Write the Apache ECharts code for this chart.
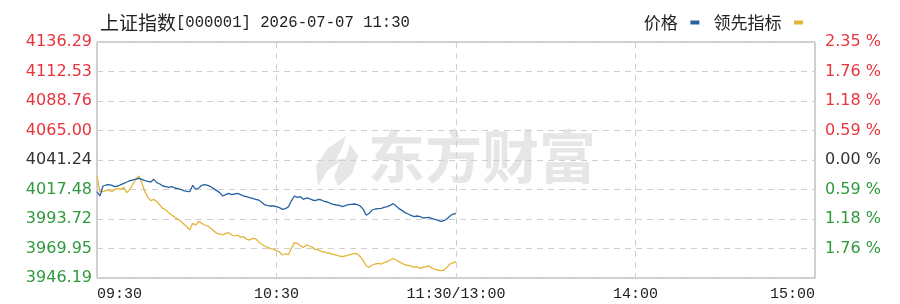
<!DOCTYPE html>
<html><head><meta charset="utf-8">
<script src="https://cdn.jsdelivr.net/npm/echarts@6/dist/echarts.min.js"></script>
<style>html,body{margin:0;padding:0;background:#fff}#c{width:900px;height:304px}</style>
</head><body><div id="c"></div>
<script>
const titleName = '上证指数';
const titleInfo = '[000001] 2026-07-07 11:30';
const seriesNames = ['价格', '领先指标'];
const watermarkText = '东方财富';

const priceValues = [
4015.73,4012.24,4020.30,4021.10,4021.37,4020.83,4019.76,4020.30,4021.37,4022.44,
4023.52,4024.59,4025.13,4025.94,4026.47,4025.67,4024.59,4024.06,4023.52,4025.67,
4022.98,4021.91,4020.30,4019.76,4019.22,4019.76,4018.69,4018.15,4017.61,4016.54,
4016.00,4015.73,4020.83,4017.61,4018.69,4020.83,4021.37,4020.83,4019.76,4018.15,
4016.54,4014.93,4012.24,4013.32,4014.39,4013.32,4013.85,4014.39,4013.32,4012.24,
4011.70,4010.90,4010.36,4009.56,4009.02,4007.41,4005.26,4004.46,4004.19,4004.19,
4003.65,4002.84,4001.50,4002.04,4003.65,4008.48,4012.24,4011.17,4011.70,4009.56,
4010.63,4010.09,4009.02,4008.48,4009.56,4009.02,4007.95,4007.41,4006.33,4005.53,
4004.99,4004.72,4003.65,4004.46,4005.26,4005.53,4005.80,4005.26,4004.19,4001.50,
3996.67,3998.28,4000.96,4001.77,4002.04,4002.31,4003.11,4003.65,4004.72,4006.07,
4004.19,4002.04,4000.43,3998.82,3997.74,3996.67,3995.59,3996.13,3995.59,3994.52,
3994.79,3995.06,3993.98,3993.45,3992.64,3991.84,3992.37,3993.98,3996.13,3997.74,
3998.01];

const leadValues = [
4027.81,4015.73,4015.73,4016.54,4017.07,4015.73,4017.61,4018.42,4017.61,4019.22,
4014.93,4017.61,4021.91,4025.67,4028.35,4022.44,4015.73,4011.17,4008.48,4009.56,
4007.68,4004.99,4002.31,4000.96,3998.82,3996.94,3995.06,3993.45,3991.84,3989.69,
3987.54,3984.85,3990.22,3988.88,3991.84,3990.22,3988.88,3988.08,3986.20,3984.32,
3982.17,3981.63,3980.83,3982.17,3982.71,3980.83,3980.02,3980.83,3978.95,3979.48,
3977.34,3976.80,3978.14,3977.87,3975.46,3973.58,3971.97,3970.89,3969.82,3969.28,
3968.21,3967.13,3964.72,3965.52,3964.99,3970.09,3974.65,3974.11,3971.97,3970.89,
3972.77,3971.97,3970.89,3969.28,3968.74,3967.67,3967.13,3966.33,3966.06,3965.25,
3964.72,3963.91,3963.37,3963.91,3964.72,3965.25,3966.06,3965.52,3963.37,3960.15,
3955.86,3954.78,3956.66,3957.47,3958.00,3957.47,3958.54,3959.35,3960.69,3961.76,
3960.69,3959.35,3958.00,3956.66,3956.39,3955.86,3954.78,3955.32,3953.98,3954.78,
3955.32,3955.86,3953.98,3953.17,3952.63,3952.10,3952.63,3954.78,3957.47,3958.54,
3959.08];

const prevClose = 4041.24;
const priceTicks = [3946.19, 3969.95, 3993.72, 4017.48, 4041.24, 4065.00, 4088.76, 4112.53, 4136.29];
const priceTickLabels = ['3946.19','3969.95','3993.72','4017.48','4041.24','4065.00','4088.76','4112.53','4136.29'];
const pctTicks = [-2.35, -1.76, -1.18, -0.59, 0, 0.59, 1.18, 1.76, 2.35];
const pctTickLabels = ['', '1.76 %', '1.18 %', '0.59 %', '0.00 %', '0.59 %', '1.18 %', '1.76 %', '2.35 %'];
const timeTickLabels = ['09:30', '10:30', '11:30/13:00', '14:00', '15:00'];

// minute slots of a trading day (241 slots)
const categories = [];
for (let i = 0; i <= 240; i++) categories.push(String(i));

const RED = '#e8343c', GREEN = '#2f9a3c', DARK = '#333333';
const BLUE = '#2563a3', GOLD = '#e5b53a';
const WM = '#e6e6e6';

function idxOf(arr, v) { return arr.findIndex(a => Math.abs(a - v) < 1e-6); }

const chart = echarts.init(document.getElementById('c'), null, { renderer: 'canvas' });
chart.setOption({
  animation: false,
  backgroundColor: '#ffffff',
  title: {
    text: '{a|' + titleName + '}{b|' + titleInfo + '}',
    left: 95, top: 8,
    textStyle: {
      fontWeight: 'normal',
      rich: {
        a: { fontFamily: 'Noto Sans CJK SC', fontSize: 19, color: '#222', fontWeight: 'normal' },
        b: { fontFamily: 'Liberation Mono', fontSize: 15.6, color: '#222', fontWeight: 'normal' }
      }
    }
  },
  legend: {
    data: seriesNames,
    right: 92, top: 9,
    align: 'right',
    icon: 'rect', itemWidth: 9, itemHeight: 4, itemGap: 14,
    formatter: n => n + '  ',
    textStyle: { fontFamily: 'Noto Sans CJK SC', fontSize: 17, color: '#222' }
  },
  graphic: [
    { type: 'text', left: 368, top: 128, z: 0, silent: true,
      style: { text: watermarkText, fontFamily: 'Noto Sans CJK SC', fontWeight: 'bold', fontSize: 57, fill: WM } },
    { type: 'polygon', z: 0, silent: true,
      shape: { points: [[346,136],[328,148],[316,166],[318,186],[328,170],[340,162],[334,176],[338,186],[352,174],[358,156],[350,144],[346,158],[336,160],[342,148]] },
      style: { fill: WM } }
  ],
  grid: { left: 97, right: 85, top: 42, bottom: 26, show: true, borderColor: '#a3a3a3', borderWidth: 1 },
  xAxis: {
    type: 'category', data: categories, boundaryGap: false,
    axisLine: { show: false }, axisTick: { show: false },
    axisLabel: {
      interval: (i) => i % 60 === 0,
      formatter: (v, i) => timeTickLabels[Math.round(i / 60)],
      fontFamily: 'Liberation Mono', fontSize: 15, color: '#222', margin: 9,
      alignMinLabel: 'left', alignMaxLabel: 'right', showMinLabel: true, showMaxLabel: true
    },
    splitLine: { show: true, interval: (i) => i % 60 === 0, lineStyle: { type: [6, 5], color: '#cfcfcf', width: 1 } }
  },
  yAxis: [
    {
      type: 'value', min: priceTicks[0], max: priceTicks[priceTicks.length - 1], position: 'left',
      axisLine: { show: false },
      axisTick: { show: false, customValues: priceTicks },
      axisLabel: {
        customValues: priceTicks,
        formatter: v => priceTickLabels[idxOf(priceTicks, v)],
        color: v => (Math.abs(v - prevClose) < 1e-6 ? DARK : (v > prevClose ? RED : GREEN)),
        fontFamily: 'DejaVu Sans', fontSize: 16, margin: 5
      },
      splitLine: { show: true, lineStyle: { type: [6, 5], color: '#cfcfcf', width: 1 } }
    },
    {
      type: 'value', min: pctTicks[0], max: pctTicks[pctTicks.length - 1], position: 'right',
      axisLine: { show: false },
      axisTick: { show: false, customValues: pctTicks },
      axisLabel: {
        customValues: pctTicks,
        formatter: v => pctTickLabels[idxOf(pctTicks, v)],
        color: v => (Math.abs(v) < 1e-6 ? DARK : (v > 0 ? RED : GREEN)),
        fontFamily: 'DejaVu Sans', fontSize: 16, margin: 10
      },
      splitLine: { show: false }
    }
  ],
  series: [
    { name: seriesNames[0], type: 'line', data: priceValues, showSymbol: false, yAxisIndex: 0, z: 4,
      lineStyle: { color: BLUE, width: 1.3 }, itemStyle: { color: BLUE } },
    { name: seriesNames[1], type: 'line', data: leadValues, showSymbol: false, yAxisIndex: 0, z: 3,
      lineStyle: { color: GOLD, width: 1.3 }, itemStyle: { color: GOLD } }
  ]
});
</script></body></html>
